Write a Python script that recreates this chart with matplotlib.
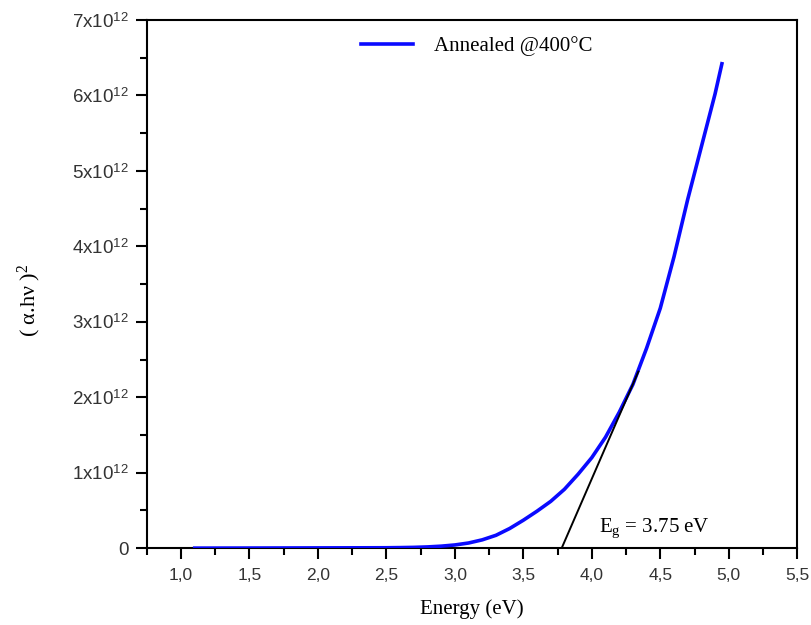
import matplotlib
matplotlib.use("Agg")
import matplotlib.pyplot as plt
from matplotlib.ticker import MultipleLocator, FixedLocator, FixedFormatter

plt.rcParams['mathtext.fontset'] = 'custom'
plt.rcParams['mathtext.rm'] = 'Liberation Serif'
plt.rcParams['mathtext.sf'] = 'Liberation Sans'
plt.rcParams['mathtext.it'] = 'Liberation Serif:italic'

# curve (energy in eV, (alpha.hv)^2 in units of 1e12)
energy = [1.10, 1.50, 2.00, 2.50, 2.60, 2.70, 2.80, 2.90, 3.00, 3.10,
          3.20, 3.30, 3.40, 3.50, 3.60, 3.70, 3.80, 3.90, 4.00, 4.10,
          4.20, 4.30, 4.40, 4.50, 4.60, 4.70, 4.80, 4.90, 4.95]
ahv2 = [0.000, 0.001, 0.003, 0.005, 0.007, 0.010, 0.016, 0.026, 0.042, 0.068,
        0.11, 0.17, 0.26, 0.37, 0.49, 0.62, 0.78, 0.98, 1.20, 1.47,
        1.80, 2.17, 2.65, 3.18, 3.86, 4.62, 5.32, 6.02, 6.42]

# tangent used for the gap estimate
fit_e = [3.78, 4.34]
fit_y = [0.0, 2.34]

x_ticks = [1.0, 1.5, 2.0, 2.5, 3.0, 3.5, 4.0, 4.5, 5.0, 5.5]
x_labels = ['1,0', '1,5', '2,0', '2,5', '3,0', '3,5', '4,0', '4,5', '5,0', '5,5']
y_ticks = [0, 1, 2, 3, 4, 5, 6, 7]
y_labels = ['0'] + [r'%dx10$^{\mathsf{12}}$' % v for v in y_ticks[1:]]

fig = plt.figure(figsize=(8.11, 6.25), dpi=100)
ax = fig.add_axes([0.181, 0.123, 0.802, 0.845])

ax.plot(energy, ahv2, color='#0a0aff', lw=2.6, label='Annealed @400°C', zorder=3)
ax.plot(fit_e, fit_y, color='black', lw=1.4, zorder=4)

ax.set_xlim(0.75, 5.5)
ax.set_ylim(0, 7)

ax.xaxis.set_major_locator(FixedLocator(x_ticks))
ax.xaxis.set_major_formatter(FixedFormatter(x_labels))
ax.xaxis.set_minor_locator(MultipleLocator(0.25))
ax.yaxis.set_major_locator(FixedLocator(y_ticks))
ax.yaxis.set_major_formatter(FixedFormatter(y_labels))
ax.yaxis.set_minor_locator(MultipleLocator(0.5))

ax.tick_params(which='major', direction='out', length=8, width=1.5,
               colors='black', pad=6)
ax.tick_params(axis='x', labelsize=12.5)
ax.tick_params(axis='y', labelsize=13.5, pad=5)
ax.tick_params(which='minor', direction='out', length=5, width=1.5)
for lab in ax.get_xticklabels() + ax.get_yticklabels():
    lab.set_family('Liberation Sans')
    lab.set_color('#333333')
for s in ax.spines.values():
    s.set_linewidth(1.5)

ax.set_xlabel('Energy (eV)', family='Liberation Serif', fontsize=15, labelpad=12)
ax.set_ylabel(r'( α.hν )$^{2}$', family='Liberation Serif', fontsize=16)
ax.yaxis.set_label_coords(-0.16, 0.47)

ax.text(4.05, 0.22, r'E$_{\mathrm{g}}$ = 3.75 eV', family='Liberation Serif', fontsize=15)

ax.legend(loc='upper left', bbox_to_anchor=(0.30, 1.005), frameon=False,
          prop={'family': 'Liberation Serif', 'size': 15}, handlelength=2.5,
          handletextpad=1.0)

fig.savefig('out.png', dpi=100)
